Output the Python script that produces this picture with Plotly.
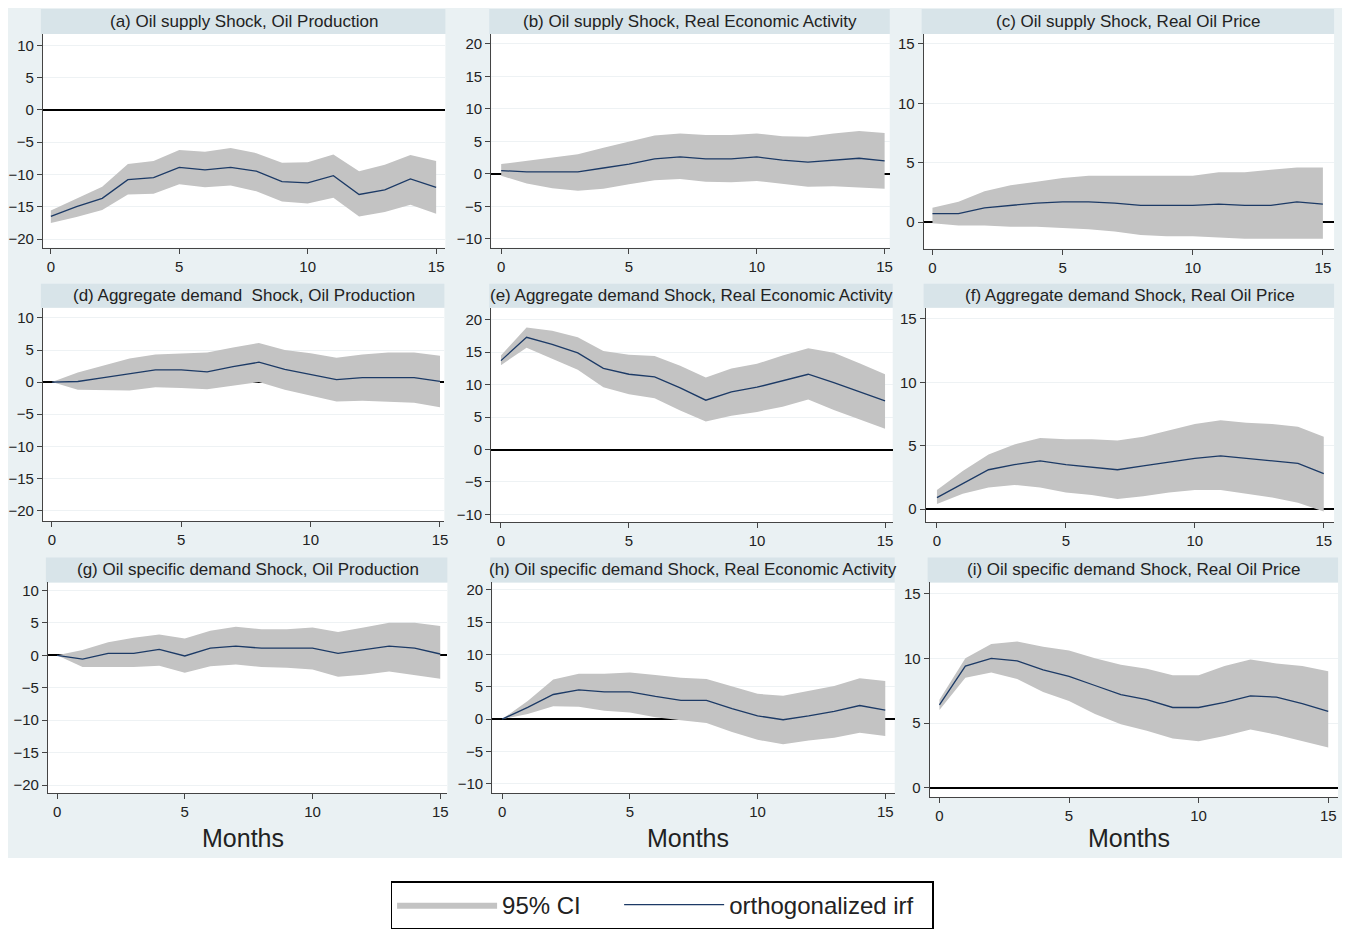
import plotly.graph_objects as go

# ---------------- data ----------------
months = list(range(16))
x_ticks = [0, 5, 10, 15]
y_ticks_prod = [-20, -15, -10, -5, 0, 5, 10]
y_ticks_rea = [-10, -5, 0, 5, 10, 15, 20]
y_ticks_price = [0, 5, 10, 15]

panel_titles = [
    "(a) Oil supply Shock, Oil Production",
    "(b) Oil supply Shock, Real Economic Activity",
    "(c) Oil supply Shock, Real Oil Price",
    "(d) Aggregate demand  Shock, Oil Production",
    "(e) Aggregate demand Shock, Real Economic Activity",
    "(f) Aggregate demand Shock, Real Oil Price",
    "(g) Oil specific demand Shock, Oil Production",
    "(h) Oil specific demand Shock, Real Economic Activity",
    "(i) Oil specific demand Shock, Real Oil Price",
]
legend_names = ["95% CI", "orthogonalized irf"]

a_irf = [-16.5, -15.0, -13.7, -10.8, -10.5, -8.9, -9.3, -8.9, -9.5, -11.1, -11.3, -10.2, -13.1, -12.4, -10.7, -12.0]
a_hi = [-15.6, -13.7, -11.9, -8.4, -7.9, -6.2, -6.5, -5.9, -6.7, -8.2, -8.1, -6.9, -9.5, -8.5, -7.0, -7.9]
a_lo = [-17.5, -16.6, -15.5, -13.1, -13.0, -11.5, -12.0, -11.7, -12.6, -14.2, -14.5, -13.6, -16.5, -15.8, -14.7, -16.1]

b_irf = [0.5, 0.3, 0.3, 0.3, 0.9, 1.5, 2.3, 2.6, 2.3, 2.3, 2.6, 2.1, 1.8, 2.1, 2.4, 2.0]
b_hi = [1.5, 2.0, 2.5, 3.0, 4.0, 5.0, 5.9, 6.2, 6.0, 6.0, 6.2, 5.8, 5.7, 6.2, 6.6, 6.3]
b_lo = [-0.3, -1.5, -2.2, -2.6, -2.3, -1.6, -1.0, -0.8, -1.2, -1.3, -1.1, -1.6, -2.0, -1.9, -2.1, -2.3]

c_irf = [0.7, 0.7, 1.2, 1.4, 1.6, 1.7, 1.7, 1.6, 1.4, 1.4, 1.4, 1.5, 1.4, 1.4, 1.7, 1.5]
c_hi = [1.2, 1.7, 2.6, 3.1, 3.4, 3.7, 3.9, 3.9, 3.9, 3.9, 3.9, 4.2, 4.2, 4.4, 4.6, 4.6]
c_lo = [-0.1, -0.3, -0.3, -0.4, -0.4, -0.5, -0.6, -0.8, -1.1, -1.2, -1.2, -1.3, -1.4, -1.4, -1.4, -1.4]

d_irf = [0.0, 0.1, 0.7, 1.3, 1.9, 1.9, 1.6, 2.4, 3.1, 2.0, 1.2, 0.4, 0.7, 0.7, 0.7, 0.1]
d_hi = [0.0, 1.5, 2.6, 3.7, 4.3, 4.5, 4.6, 5.4, 6.1, 5.0, 4.5, 3.8, 4.3, 4.6, 4.6, 4.1]
d_lo = [0.0, -1.2, -1.2, -1.3, -0.8, -0.9, -1.1, -0.5, 0.0, -1.2, -2.1, -3.0, -2.9, -3.0, -3.2, -3.9]

e_irf = [13.7, 17.3, 16.2, 14.9, 12.5, 11.6, 11.2, 9.5, 7.6, 8.9, 9.6, 10.6, 11.6, 10.3, 8.9, 7.5]
e_hi = [14.5, 18.8, 18.3, 17.3, 15.2, 14.6, 14.4, 12.9, 11.1, 12.5, 13.2, 14.5, 15.6, 14.9, 13.3, 11.6]
e_lo = [13.0, 15.7, 14.0, 12.3, 9.6, 8.5, 7.9, 6.0, 4.3, 5.2, 5.8, 6.6, 7.7, 6.1, 4.6, 3.2]

f_irf = [0.9, 2.0, 3.1, 3.5, 3.8, 3.5, 3.3, 3.1, 3.4, 3.7, 4.0, 4.2, 4.0, 3.8, 3.6, 2.8]
f_hi = [1.5, 3.0, 4.3, 5.1, 5.6, 5.5, 5.5, 5.4, 5.7, 6.2, 6.7, 7.0, 6.8, 6.7, 6.5, 5.7]
f_lo = [0.4, 1.2, 1.7, 1.9, 1.7, 1.3, 1.1, 0.8, 1.0, 1.3, 1.5, 1.5, 1.2, 0.9, 0.5, -0.2]

g_irf = [0.0, -0.6, 0.3, 0.3, 0.9, -0.1, 1.1, 1.4, 1.1, 1.1, 1.1, 0.3, 0.8, 1.4, 1.1, 0.2]
g_hi = [0.0, 0.8, 2.0, 2.7, 3.2, 2.6, 3.8, 4.4, 4.0, 4.0, 4.3, 3.6, 4.3, 5.0, 5.0, 4.5]
g_lo = [0.0, -1.8, -1.8, -1.8, -1.6, -2.7, -1.7, -1.4, -1.8, -1.9, -2.2, -3.3, -3.0, -2.5, -3.0, -3.6]

h_irf = [0.0, 1.8, 3.8, 4.5, 4.2, 4.2, 3.5, 2.9, 2.9, 1.6, 0.5, -0.1, 0.5, 1.2, 2.1, 1.4]
h_hi = [0.0, 2.8, 6.1, 7.0, 7.0, 7.2, 6.8, 6.4, 6.2, 5.0, 3.9, 3.6, 4.4, 5.1, 6.3, 5.9]
h_lo = [0.0, 0.8, 2.0, 1.9, 1.3, 1.0, 0.3, -0.2, -0.6, -2.0, -3.2, -3.9, -3.3, -2.9, -2.1, -2.6]

i_irf = [6.4, 9.4, 10.0, 9.8, 9.1, 8.6, 7.9, 7.2, 6.8, 6.2, 6.2, 6.6, 7.1, 7.0, 6.5, 5.9]
i_hi = [6.8, 10.0, 11.1, 11.3, 10.9, 10.6, 10.0, 9.5, 9.2, 8.7, 8.7, 9.4, 9.9, 9.6, 9.4, 9.0]
i_lo = [6.0, 8.5, 8.9, 8.4, 7.4, 6.7, 5.7, 4.9, 4.4, 3.8, 3.6, 4.0, 4.5, 4.1, 3.6, 3.1]

series = [
    (a_irf, a_lo, a_hi), (b_irf, b_lo, b_hi), (c_irf, c_lo, c_hi),
    (d_irf, d_lo, d_hi), (e_irf, e_lo, e_hi), (f_irf, f_lo, f_hi),
    (g_irf, g_lo, g_hi), (h_irf, h_lo, h_hi), (i_irf, i_lo, i_hi),
]
y_tick_sets = [y_ticks_prod, y_ticks_rea, y_ticks_price]

# ---------------- layout geometry (pixels in the final page) ----------------
W, H = 1353, 929
PAGE_OFFSET = 8  # default body margin of the html page
# (left, right, top, bottom) of each plot region, x range, y range
geom = [
    ((42, 446, 33, 247), (-0.31, 15.36), (-21.35, 11.75)),
    ((492, 892, 33, 247), (-0.39, 15.2), (-11.38, 21.54)),
    ((926, 1338, 33, 248), (-0.34, 15.43), (-2.25, 15.84)),
    ((42, 445, 307, 521), (-0.35, 15.17), (-21.71, 11.6)),
    ((492, 895, 307, 522), (-0.38, 15.3), (-11.24, 21.86)),
    ((928, 1338, 307, 522), (-0.44, 15.4), (-1.06, 15.89)),
    ((47, 448, 582, 793), (-0.36, 15.28), (-21.23, 11.23)),
    ((493, 897, 582, 793), (-0.39, 15.37), (-11.45, 21.13)),
    ((932, 1342, 582, 797), (-0.38, 15.38), (-0.73, 15.87)),
]
strip_tops = [8, 8, 8, 283, 283, 283, 557, 557, 557]

FONT = "Liberation Sans, Arial, sans-serif"
BAND = "#c3c3c3"
LINE = "#1c3a66"
BG = "#eaf1f3"
STRIP = "#d8e4e9"
TXT = "#222222"
NBSP = "\u00a0"


def fx(px):
    return (px - PAGE_OFFSET) / W


def fy(py):
    return 1 - (py - PAGE_OFFSET) / H


fig = go.Figure()
layout = dict(
    width=W, height=H,
    margin=dict(l=0, r=0, t=0, b=0),
    paper_bgcolor="white",
    plot_bgcolor="white",
    font=dict(family=FONT, color=TXT),
    showlegend=True,
)
shapes = [dict(type="rect", xref="paper", yref="paper", x0=fx(5), x1=fx(1346),
               y0=fy(858), y1=fy(5), fillcolor=BG, line=dict(width=0), layer="below")]
annotations = []

for k, ((irf, lo, hi), ((l, r, t, b), xr, yr)) in enumerate(zip(series, geom)):
    n = k + 1
    sx = "" if n == 1 else str(n)
    xa, ya = "x" + sx, "y" + sx
    col = k % 3
    fig.add_trace(go.Scatter(
        x=months + months[::-1], y=hi + lo[::-1], fill="toself", fillcolor=BAND,
        line=dict(width=0, color=BAND), mode="lines",
        name=legend_names[0] + NBSP * 5,
        showlegend=(k == 0), legendrank=1, hoverinfo="skip", xaxis=xa, yaxis=ya))
    fig.add_trace(go.Scatter(
        x=months, y=irf, mode="lines", line=dict(color=LINE, width=1.3),
        name=legend_names[1] + NBSP * 2, showlegend=(k == 0), legendrank=2,
        xaxis=xa, yaxis=ya))
    axis_common = dict(showline=True, linecolor="#444444", linewidth=1,
                       ticks="outside", ticklen=5, tickcolor="#444444",
                       tickfont=dict(size=15, color=TXT))
    layout["xaxis" + sx] = dict(domain=[fx(l), fx(r)], range=list(xr), anchor=ya,
                               tickvals=x_ticks, showgrid=False, zeroline=False,
                               **axis_common)
    # y zero line (drawn beneath the data, like the reference)
    layout["yaxis" + sx] = dict(domain=[fy(b), fy(t)], range=list(yr), anchor=xa,
                               tickvals=y_tick_sets[col], showgrid=True,
                               gridcolor="#eef2f4", gridwidth=1,
                               zeroline=True, zerolinecolor="black", zerolinewidth=2,
                               **axis_common)
    # white plot region
    shapes.append(dict(type="rect", xref="paper", yref="paper", x0=fx(l), x1=fx(r),
                       y0=fy(b), y1=fy(t), fillcolor="white", line=dict(width=0),
                       layer="below"))
    # title strip
    st = strip_tops[k]
    shapes.append(dict(type="rect", xref="paper", yref="paper", x0=fx(l - 2), x1=fx(r),
                       y0=fy(t), y1=fy(st), fillcolor=STRIP, line=dict(width=0), layer="below"))
    annotations.append(dict(text=panel_titles[k], xref="paper", yref="paper",
                            x=fx((l + r) / 2), y=fy((st + t) / 2), xanchor="center",
                            yanchor="middle", showarrow=False,
                            font=dict(size=17, color=TXT, family=FONT)))
    if k >= 6:
        annotations.append(dict(text="Months", xref="paper", yref="paper",
                                x=fx((l + r) / 2 - 5), y=fy(838), xanchor="center",
                                yanchor="middle", showarrow=False,
                                font=dict(size=25, color=TXT, family=FONT)))

layout["shapes"] = shapes
layout["annotations"] = annotations
layout["legend"] = dict(orientation="h", x=fx(391), xanchor="left", y=fy(905),
                        yanchor="middle", bordercolor="black", borderwidth=1.5,
                        bgcolor="white", font=dict(size=24, color=TXT, family=FONT),
                        itemwidth=100, traceorder="normal")
fig.update_layout(**layout)
fig.write_html("out.html")
